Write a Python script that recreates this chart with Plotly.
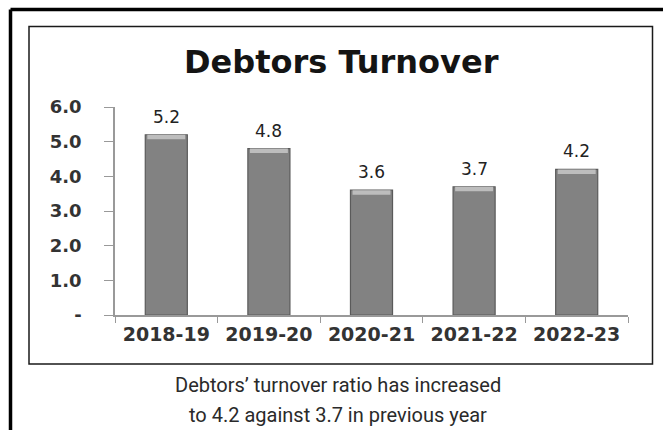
import plotly.graph_objects as go

years = ["2018-19", "2019-20", "2020-21", "2021-22", "2022-23"]
turnover = [5.2, 4.8, 3.6, 3.7, 4.2]
labels = ["5.2", "4.8", "3.6", "3.7", "4.2"]
ytick_vals = [0, 1, 2, 3, 4, 5, 6]
ytick_text = ["-", "1.0", "2.0", "3.0", "4.0", "5.0", "6.0"]
title_text = "Debtors Turnover"
caption_lines = ["Debtors\u2019 turnover ratio has increased",
                 "to 4.2 against 3.7 in previous year"]

W, H = 663, 430
ML, MR, MT, MB = 115, 35, 107, 115
PW, PH = W - ML - MR, H - MT - MB


def px(x):
    return (x - ML) / PW


def py(y):
    return (H - MB - y) / PH


cap = 0.13
fig = go.Figure()
fig.add_trace(go.Bar(
    x=years, y=turnover, width=0.41,
    marker=dict(color="#828282", line=dict(color="#5a5a5a", width=1.2)),
    hoverinfo="skip",
))
fig.add_trace(go.Bar(
    x=years, y=[cap] * len(years), base=[v - cap for v in turnover], width=0.37,
    marker=dict(color="#bdbdbd", line=dict(width=0)),
    hoverinfo="skip",
))

annotations = [
    dict(text=lab, x=yr, y=val, xref="x", yref="y", showarrow=False,
         xanchor="center", yanchor="middle", yshift=18,
         font=dict(family="DejaVu Sans", size=17, color="#222"))
    for yr, val, lab in zip(years, turnover, labels)
]
annotations += [
    dict(text=title_text, xref="paper", yref="paper",
         x=px(341), y=py(62), showarrow=False, xanchor="center", yanchor="middle",
         font=dict(family="DejaVu Sans", size=32, color="#141414", weight="bold")),
    dict(text=caption_lines[0], xref="paper", yref="paper",
         x=px(338), y=py(385), showarrow=False, xanchor="center", yanchor="middle",
         font=dict(family="Roboto", size=20, color="#2a2a2a")),
    dict(text=caption_lines[1], xref="paper", yref="paper",
         x=px(338), y=py(415), showarrow=False, xanchor="center", yanchor="middle",
         font=dict(family="Roboto", size=20, color="#2a2a2a")),
]

fig.update_layout(
    width=W, height=H, barmode="overlay", showlegend=False,
    paper_bgcolor="white", plot_bgcolor="white",
    margin=dict(l=ML, r=MR, t=MT, b=MB),
    xaxis=dict(type="category", showline=True, linecolor="#999", linewidth=1.5,
               ticks="outside", ticklen=6, tickcolor="#999", tickson="boundaries",
               tickfont=dict(family="DejaVu Sans", size=19, color="#333", weight="bold"),
               showgrid=False, ticklabelstandoff=1),
    yaxis=dict(range=[0, 6], tickvals=ytick_vals, ticktext=ytick_text,
               showline=True, linecolor="#999", linewidth=1.5,
               ticks="outside", ticklen=9, tickcolor="#999",
               tickfont=dict(family="DejaVu Sans", size=18, color="#333", weight="bold"),
               showgrid=False, zeroline=False, ticklabelstandoff=19),
    shapes=[
        dict(type="rect", xref="paper", yref="paper",
             x0=px(29), x1=px(652.5), y0=py(364), y1=py(26.5),
             line=dict(color="#1a1a1a", width=1.5), layer="below"),
        dict(type="line", xref="paper", yref="paper",
             x0=px(10.5), x1=px(W), y0=py(9.5), y1=py(9.5),
             line=dict(color="black", width=3.5)),
        dict(type="line", xref="paper", yref="paper",
             x0=px(10.5), x1=px(10.5), y0=py(9.5), y1=py(H),
             line=dict(color="black", width=3.5)),
    ],
    annotations=annotations,
)

fig.write_html("out.html", config={"displayModeBar": False},
               post_script="document.body.style.margin='0';document.body.style.overflow='hidden';")
